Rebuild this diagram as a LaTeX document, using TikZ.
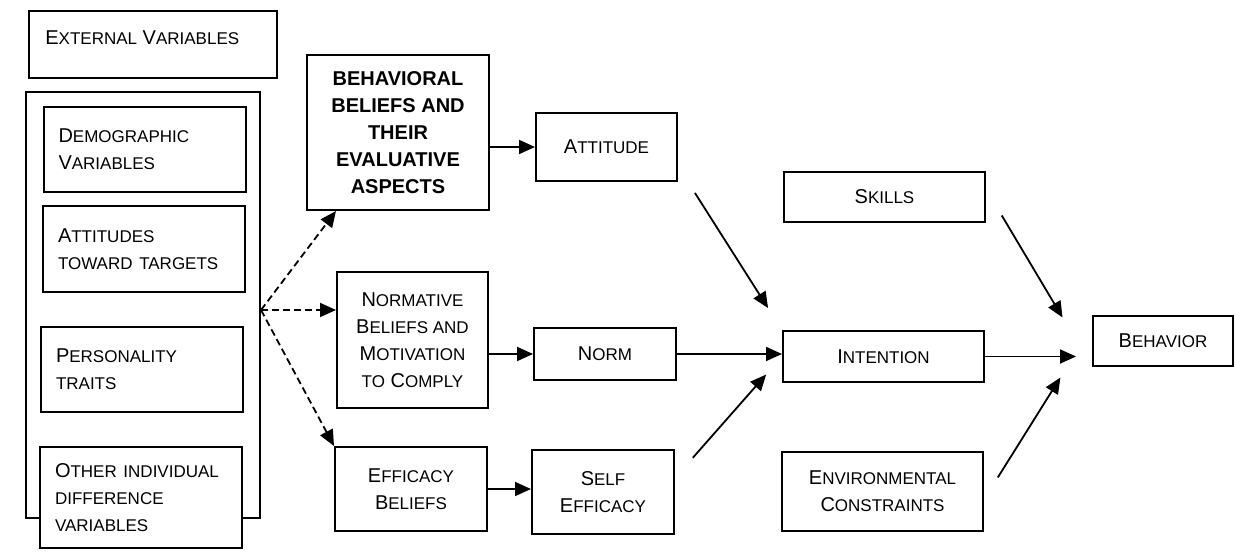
\documentclass[tikz,border=0pt]{standalone}
\usepackage{fontspec}
\setmainfont{Liberation Sans}
\usetikzlibrary{arrows.meta}
\newcommand{\scl}[1]{{\fontsize{8.5}{13.5}\selectfont #1}}

\begin{document}
\begin{tikzpicture}[x=0.5pt, y=-0.5pt,
  box/.style={draw, line width=1pt, fill=white, inner sep=0pt, align=center, font=\fontsize{10}{13.5}\selectfont},
  varbox/.style={box, align=left, text width=86pt, inner xsep=7.5pt, minimum width=101pt},
  arr/.style={-{Triangle[length=8pt, width=7pt]}, line width=0.9pt},
  dasharr/.style={arr, dash pattern=on 3.5pt off 2pt}
]
  \useasboundingbox (0,0) rectangle (1236,560);

  % external variables
  \node[box, minimum width=124pt, minimum height=33.5pt,
    label={[anchor=north west, inner sep=0pt, font=\fontsize{10}{13.5}\selectfont, xshift=8.5pt, yshift=-10pt]north west:E\scl{XTERNAL} V\scl{ARIABLES}}] (ext) at (153,44.5) {};
  \node[draw, line width=1pt, inner sep=0pt, minimum width=117pt, minimum height=213pt] (extgroup) at (143,305) {};
  \node[varbox, minimum height=42.5pt] (demo) at (144.5,149.5) {D\scl{EMOGRAPHIC}\\V\scl{ARIABLES}};
  \node[varbox, minimum height=43pt] (targets) at (144,249) {A\scl{TTITUDES}\\\scl{TOWARD TARGETS}};
  \node[varbox, minimum height=42.5pt] (personality) at (142,369.5) {P\scl{ERSONALITY}\\\scl{TRAITS}};
  \node[varbox, minimum height=50.5pt] (otherdiff) at (141,497.5) {O\scl{THER INDIVIDUAL}\\\scl{DIFFERENCE}\\\scl{VARIABLES}};

  % beliefs
  \node[box, minimum width=91pt, minimum height=77.5pt, font=\fontsize{10}{13.5}\selectfont\bfseries] (behbeliefs) at (398,132.5) {BEHAVIORAL\\BELIEFS AND\\THEIR\\EVALUATIVE\\ASPECTS};
  \node[box, minimum width=75.5pt, minimum height=68pt] (normbeliefs) at (412.5,340) {N\scl{ORMATIVE}\\B\scl{ELIEFS AND}\\M\scl{OTIVATION}\\\scl{TO} C\scl{OMPLY}};
  \node[box, minimum width=76pt, minimum height=42pt] (effbeliefs) at (411,489) {E\scl{FFICACY}\\B\scl{ELIEFS}};

  \node[box, minimum width=70.5pt, minimum height=34pt] (attitude) at (606.5,147) {A\scl{TTITUDE}};
  \node[box, minimum width=71pt, minimum height=26pt] (norm) at (605,354) {N\scl{ORM}};
  \node[box, minimum width=71pt, minimum height=42pt] (selfeff) at (603,492) {S\scl{ELF}\\E\scl{FFICACY}};

  \node[box, minimum width=100.5pt, minimum height=25pt] (skills) at (884.5,197) {S\scl{KILLS}};
  \node[box, minimum width=100.5pt, minimum height=25.5pt] (intention) at (883.5,356.5) {I\scl{NTENTION}};
  \node[box, minimum width=100.5pt, minimum height=39.5pt] (envcons) at (882.5,491.5) {E\scl{NVIRONMENTAL}\\C\scl{ONSTRAINTS}};
  \node[box, minimum width=70pt, minimum height=25pt] (behavior) at (1163,341) {B\scl{EHAVIOR}};

  % dashed links
  \coordinate (fan) at ([yshift=-2.5pt]extgroup.east);
  \draw[dasharr] (fan) -- ([xshift=15pt]behbeliefs.south west);
  \draw[dasharr] (fan) -- (fan -| normbeliefs.west);
  \draw[dasharr] (fan) -- (effbeliefs.north west);

  % solid links
  \draw[arr] (behbeliefs.east |- attitude.west) -- (attitude.west);
  \draw[arr] (normbeliefs.east |- norm.west) -- (norm.west);
  \draw[arr] (effbeliefs.east) -- (effbeliefs.east -| selfeff.west);
  \draw[arr] (norm.east) -- (norm.east -| intention.west);
  \draw[arr, shorten <=6.5pt, shorten >=13pt] ([xshift=5pt]attitude.south east) -- (intention.north west);
  \draw[arr, shorten <=13.5pt, shorten >=12pt] ([yshift=7pt]selfeff.east) -- (intention.west);
  \draw[arr, shorten >=8pt] (intention.east) -- (intention.east -| behavior.west);
  \draw[arr, shorten <=15.4pt, shorten >=28.8pt] ([yshift=4pt]skills.east) -- (behavior.south west);
  \draw[arr, shorten <=13pt, shorten >=29.8pt] ([yshift=-4pt]envcons.east) -- ([yshift=7pt]behavior.west);
\end{tikzpicture}
\end{document}
